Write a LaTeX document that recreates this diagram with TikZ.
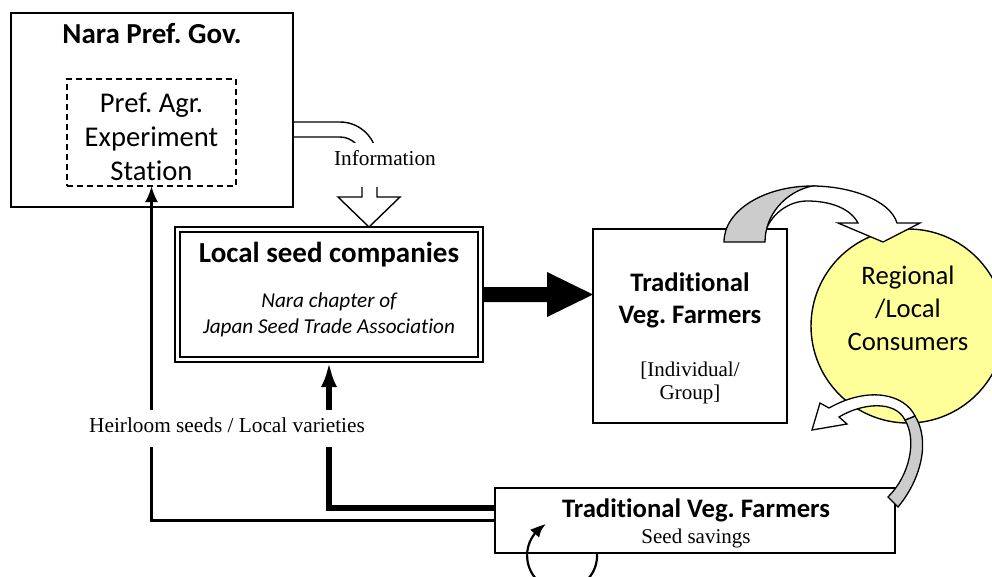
\documentclass[tikz,border=0pt]{standalone}
\usepackage{fontspec}
\setmainfont{Carlito}[Ligatures=NoCommon]
\newfontfamily\tnr{Liberation Serif}
\usetikzlibrary{arrows.meta,calc,bending}
\definecolor{consyellow}{RGB}{255,255,153}
\definecolor{bandgray}{RGB}{204,204,204}
\frenchspacing
\begin{document}
\frenchspacing
\begin{tikzpicture}[x=1pt,y=-1pt,
  boxline/.style={draw, fill=white, inner sep=0pt, outer sep=0pt},
  txt/.style={anchor=base, inner sep=0pt},
  bigB/.style={txt, font=\bfseries\fontsize{29}{34}\selectfont},
  midB/.style={txt, font=\bfseries\fontsize{26.7}{32}\selectfont},
  bigR/.style={txt, font=\fontsize{28.6}{34}\selectfont},
  midR/.style={txt, font=\fontsize{26.7}{32}\selectfont},
  smallI/.style={txt, font=\itshape\fontsize{21.2}{25}\selectfont},
  serif/.style={txt, font=\tnr\fontsize{21}{25}\selectfont},
  coverlabel/.style={anchor=base, fill=white, inner xsep=2pt, inner ysep=0pt, font=\tnr\fontsize{21.3}{25}\selectfont},
  shape line/.style={line width=1.3pt, line join=miter}
]
\useasboundingbox (0,0) rectangle (992,576);

% ---------- boxes ----------
\node[boxline, line width=2pt, minimum width=282pt, minimum height=194pt] (nara) at (152,110) {};
\node[boxline, dashed, dash pattern=on 6pt off 4pt, line width=1.4pt, minimum width=169pt, minimum height=107pt] (station) at (151.5,132.5) {};
\node[bigB] (naratitle) at (152,43) {Nara Pref. Gov.};
\node[bigR] (st1) at (151.5,112) {Pref. Agr.};
\node[bigR] (st2) at (151.5,146) {Experiment};
\node[bigR] (st3) at (151.5,180) {Station};

\node[boxline, line width=1.6pt, minimum width=308pt, minimum height=135pt] (seed) at (329,294.5) {};
\draw[line width=2.6pt] ($(seed.south west)+(5,-5)$) rectangle ($(seed.north east)+(-5,5)$);
\node[bigB] (seedtitle) at (329,262) {Local seed companies};
\node[smallI] (seedsub1) at (329,307) {Nara chapter of};
\node[smallI] (seedsub2) at (329,333) {Japan Seed Trade Association};

\node[boxline, line width=1.6pt, minimum width=194pt, minimum height=194pt] (farmers1) at (690,326) {};
\node[midB] (f1a) at (690,291) {Traditional};
\node[midB] (f1b) at (690,323) {Veg. Farmers};
\node[serif] (f1c) at (690,376) {[Individual/};
\node[serif] (f1d) at (690,399) {Group]};

\node[circle, draw, fill=consyellow, line width=1.4pt, minimum size=194pt, inner sep=0pt] (cons) at (908,326) {};
\node[midR] (c1) at (908,284) {Regional};
\node[midR] (c2) at (908,317) {/Local};
\node[midR] (c3) at (908,350) {Consumers};

\node[boxline, line width=1.6pt, minimum width=400pt, minimum height=65pt] (farmers2) at (695,520.5) {};
\node[midB] (f2a) at (696,517) {Traditional Veg. Farmers};
\node[serif] (f2b) at (696,543) {Seed savings};

% ---------- information arrow ----------
\draw[line width=1.4pt] ($(nara.east)+(0,12)$) -- (340,122)
  .. controls (360.4,122) and (377,138.6) .. (377,159) -- (377,197) -- (400,197)
  -- (seed.north -| 369,0) -- (338,197) -- (362,197) -- (362,159)
  .. controls (362,146.9) and (352.1,137) .. (340,137) -- ($(nara.east)+(0,27)$);
\node[coverlabel, text height=22pt, text depth=22pt] (info) at (385,165) {Information};

% ---------- big black arrow ----------
\fill ($(seed.east)+(0,-7.5)$) -- ++(64,0) -- ++(0,-15) -- (farmers1.west |- seed.east)
  -- ($(seed.east)+(64,22.5)$) -- ++(0,-15) -- ($(seed.east)+(0,7.5)$) -- cycle;

% ---------- heirloom connectors ----------
\coordinate (thickstart) at ($(farmers2.west)+(0,-12.5)$);
\draw[line width=2.6pt, -{Latex[length=16pt,width=13pt]}] (farmers2.west) -- (station.south |- farmers2.west) -- (station.south);
\draw[line width=6pt, -{Latex[length=25pt,width=16pt]}] (thickstart) -- (seed.south |- thickstart) -- (seed.south);
\node[coverlabel, text height=22pt, text depth=15pt] (heir) at (227,432) {Heirloom seeds / Local varieties};

% ---------- seed-saving loop ----------
\draw[line width=2.2pt, -{Latex[length=15pt,width=12pt,bend]}] ($(farmers2.south west)+(102,0)$) arc[start angle=-4, end angle=243, radius=35];

% ---------- curved arrow: farmers -> consumers ----------
\fill[white] (812,186) .. controls (850,186) and (890,200) .. (897,223) -- (920,223) -- (883,242) -- (838,223) -- (858,223)
  .. controls (850,208) and (830,201) .. (807,201) .. controls (788,201) and (770,215) .. (765,233)
  -- (765,215) .. controls (772,198) and (790,188) .. (812,186) -- cycle;
\draw[shape line] (812,186) .. controls (850,186) and (890,200) .. (897,223) -- (920,223) -- (883,242) -- (838,223) -- (858,223)
  .. controls (850,208) and (830,201) .. (807,201) .. controls (788,201) and (770,215) .. (765,233);
\filldraw[shape line, fill=bandgray] (724,242) .. controls (724,210) and (765,186) .. (812,186)
  .. controls (785,192) and (765,215) .. (765,242) -- cycle;

% ---------- curved arrow: consumers -> farmers ----------
\filldraw[shape line, fill=bandgray] (888,497) -- (898,507) .. controls (922,478) and (930,440) .. (915,416)
  -- (905,420) .. controls (917,440) and (910,475) .. (888,497) -- cycle;
\filldraw[shape line, fill=white] (915,416) .. controls (905,395) and (870,385) .. (829,408) -- (820,403) -- (812,430)
  -- (847,424) -- (839,417) .. controls (862,403) and (895,400) .. (905,420) -- cycle;
\end{tikzpicture}
\end{document}
